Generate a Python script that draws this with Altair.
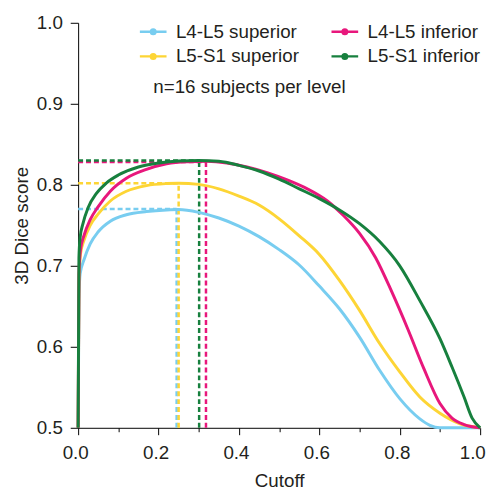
import altair as alt
import pandas as pd

# legend order (filled column by column): row 1 = L4-L5, row 2 = L5-S1
series = ["L4-L5 superior", "L5-S1 superior", "L4-L5 inferior", "L5-S1 inferior"]
colors = ["#78cdf0", "#fdd535", "#e8177c", "#17803e"]

# L4-L5 superior (light blue)
x_l45_sup = [0, 0.002, 0.005, 0.015, 0.03, 0.05, 0.08, 0.12, 0.17, 0.22, 0.25, 0.3, 0.35, 0.4,
             0.45, 0.5, 0.55, 0.6, 0.65, 0.7, 0.75, 0.8, 0.85, 0.875, 0.9, 1.0]
y_l45_sup = [0.5, 0.66, 0.69, 0.708, 0.727, 0.742, 0.755, 0.763, 0.767, 0.769, 0.7695, 0.766, 0.759, 0.749,
             0.736, 0.720, 0.701, 0.675, 0.647, 0.612, 0.571, 0.536, 0.511, 0.503, 0.5, 0.5]

# L5-S1 superior (yellow)
x_l5s1_sup = [0, 0.002, 0.006, 0.015, 0.03, 0.05, 0.08, 0.12, 0.17, 0.22, 0.25, 0.3, 0.35, 0.4,
              0.45, 0.5, 0.55, 0.6, 0.65, 0.7, 0.75, 0.8, 0.85, 0.9, 0.95, 1.0]
y_l5s1_sup = [0.5, 0.68, 0.715, 0.732, 0.750, 0.764, 0.780, 0.792, 0.799, 0.8015, 0.802, 0.8005, 0.795, 0.786,
              0.775, 0.758, 0.737, 0.714, 0.682, 0.645, 0.604, 0.569, 0.538, 0.518, 0.505, 0.5]

# L4-L5 inferior (magenta)
x_l45_inf = [0, 0.002, 0.006, 0.015, 0.03, 0.05, 0.08, 0.12, 0.17, 0.22, 0.27, 0.32, 0.37, 0.42,
             0.47, 0.52, 0.57, 0.62, 0.66, 0.7, 0.74, 0.78, 0.82, 0.86, 0.9, 0.93, 0.96, 1.0]
y_l45_inf = [0.5, 0.69, 0.72, 0.738, 0.757, 0.773, 0.792, 0.808, 0.819, 0.826, 0.8285, 0.829, 0.827, 0.822,
             0.815, 0.806, 0.795, 0.780, 0.762, 0.740, 0.710, 0.668, 0.622, 0.573, 0.530, 0.512, 0.504, 0.5]

# L5-S1 inferior (green)
x_l5s1_inf = [0, 0.002, 0.005, 0.012, 0.025, 0.045, 0.07, 0.1, 0.15, 0.2, 0.25, 0.3, 0.35, 0.4,
              0.45, 0.5, 0.55, 0.6, 0.65, 0.7, 0.75, 0.8, 0.85, 0.9, 0.93, 0.96, 0.98, 1.0]
y_l5s1_inf = [0.5, 0.71, 0.735, 0.752, 0.772, 0.789, 0.802, 0.812, 0.822, 0.827, 0.8295, 0.830, 0.829, 0.824,
              0.817, 0.807, 0.795, 0.783, 0.769, 0.752, 0.730, 0.700, 0.657, 0.610, 0.575, 0.538, 0.512, 0.5]

# optimal cutoff per series (order of `series`)
peak_x = [0.245, 0.25, 0.318, 0.301]
peak_y = [0.770, 0.802, 0.828, 0.830]

note = "n=16 subjects per level"

# ---- build tables ----
draw_order = [("L4-L5 superior", x_l45_sup, y_l45_sup),
              ("L5-S1 superior", x_l5s1_sup, y_l5s1_sup),
              ("L4-L5 inferior", x_l45_inf, y_l45_inf),
              ("L5-S1 inferior", x_l5s1_inf, y_l5s1_inf)]
rows = []
for name, xs_, ys_ in draw_order:
    for i, (xv, yv) in enumerate(zip(xs_, ys_)):
        rows.append({"series": name, "x": xv, "y": yv, "i": i})
curves = pd.DataFrame(rows)

peaks = pd.DataFrame({"series": series, "px": peak_x, "py": peak_y,
                      "x0": [0.0] * 4, "y0": [0.5] * 4})

FONT = "Liberation Sans"
TXT = "#231f20"
FS = 19
color_scale = alt.Scale(domain=series, range=colors)

sym_path = "M-1,0L1,0M0.17,0A0.17,0.17,0,1,1,-0.17,0A0.17,0.17,0,1,1,0.17,0Z"
legend = alt.Legend(
    title=None, orient="none", legendX=61, legendY=-6, columns=2,
    columnPadding=27, rowPadding=0,
    symbolType=sym_path, symbolSize=729, symbolStrokeWidth=2.5,
    labelFont=FONT, labelFontSize=FS, labelColor=TXT, labelOffset=8,
)
color_enc = alt.Color("series:N", scale=color_scale, legend=legend)

major_test = "abs(datum.value*5 - round(datum.value*5)) < 0.001"
x_axis = alt.Axis(
    values=[round(i * 0.05, 2) for i in range(21)],
    labelExpr=f"{major_test} ? format(datum.value, '.1f') : ''",
    tickSize={"condition": {"test": major_test, "value": 7}, "value": 4},
    labelOffset={"condition": {"test": "datum.value > 0.99", "value": -8}, "value": -3},
    labelOverlap=False, labelFlush=False, labelPadding=9,
    title="Cutoff", titlePadding=9, grid=False,
)
y_axis = alt.Axis(values=[0.5, 0.6, 0.7, 0.8, 0.9, 1.0], format=".1f", tickSize=8,
                  labelPadding=8, title="3D Dice score", titlePadding=5, grid=False)

xs = alt.Scale(domain=[0, 1], nice=False)
ys = alt.Scale(domain=[0.5, 1.0], nice=False)

hlines = alt.Chart(peaks).mark_rule(strokeDash=[5, 3], strokeWidth=2.5).encode(
    x=alt.X("x0:Q", scale=xs, axis=x_axis), x2="px:Q",
    y=alt.Y("py:Q", scale=ys, axis=y_axis),
    color=color_enc,
)
vlines = alt.Chart(peaks).mark_rule(strokeDash=[5, 3], strokeWidth=2.5).encode(
    x=alt.X("px:Q", scale=xs, axis=x_axis),
    y=alt.Y("y0:Q", scale=ys, axis=y_axis), y2="py:Q",
    color=color_enc,
)

lines = alt.Chart(curves).mark_line(strokeWidth=3, interpolate="monotone").encode(
    x=alt.X("x:Q", scale=xs, axis=x_axis),
    y=alt.Y("y:Q", scale=ys, axis=y_axis),
    color=color_enc,
    detail="series:N",
    order="i:Q",
)

note_layer = alt.Chart(pd.DataFrame({"x": [0.187], "y": [0.921], "t": [note]})).mark_text(
    align="left", baseline="middle", font=FONT, fontSize=FS, color=TXT
).encode(x=alt.X("x:Q", scale=xs), y=alt.Y("y:Q", scale=ys), text="t:N")

chart = alt.layer(hlines, vlines, lines, note_layer).properties(
    width=407, height=410,
    autosize=alt.AutoSizeParams(type="none"),
    padding={"left": 71, "top": 12, "right": 13, "bottom": 60},
).configure_view(stroke=None).configure_axis(
    labelFont=FONT, labelFontSize=FS, labelColor=TXT,
    titleFont=FONT, titleFontSize=FS, titleColor=TXT, titleFontWeight="normal",
    domainColor="#000000", tickColor="#000000", domainWidth=1, tickWidth=1,
)

chart.save("out.html", embed_options={"renderer": "svg", "actions": False})
